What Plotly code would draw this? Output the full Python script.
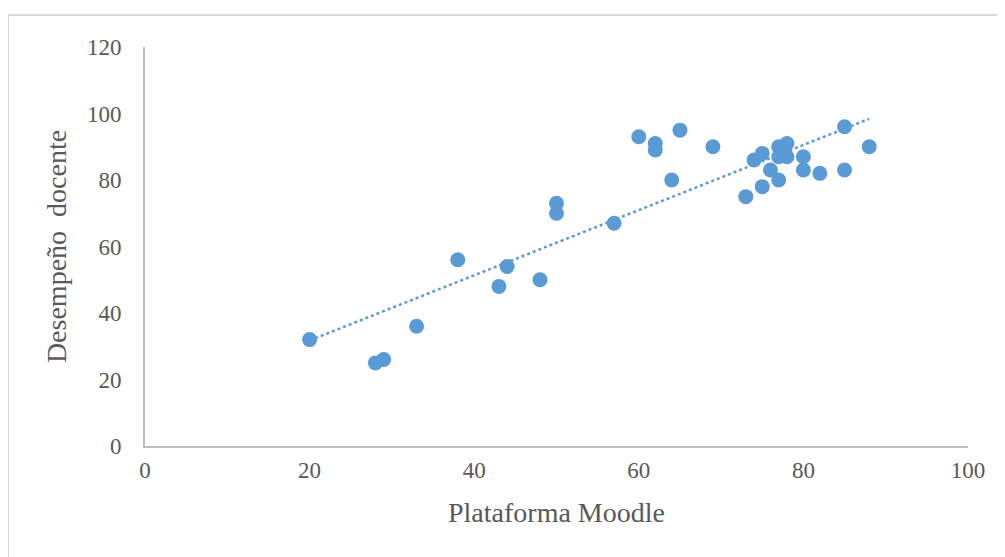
import numpy as np
import plotly.graph_objects as go

plataforma = [20, 28, 29, 33, 38, 43, 44, 48, 50, 50, 57, 60, 62, 62, 65, 64, 69,
              73, 74, 75, 75, 76, 77, 77, 77, 78, 78, 80, 80, 82, 85, 85, 88]
desempeno = [32, 25, 26, 36, 56, 48, 54, 50, 73, 70, 67, 93, 91, 89, 95, 80, 90,
             75, 86, 88, 78, 83, 90, 87, 80, 91, 87, 87, 83, 82, 96, 83, 90]

x_ticks = [0, 20, 40, 60, 80, 100]
y_ticks = [0, 20, 40, 60, 80, 100, 120]

blue = "#5B9BD5"
grey_text = "#595959"
font_family = "Liberation Serif"

xa = np.array(plataforma, dtype=float)
ya = np.array(desempeno, dtype=float)
slope, intercept = np.polyfit(xa, ya, 1)
tx = np.array([xa.min(), xa.max()])
ty = slope * tx + intercept

fig = go.Figure()
fig.add_trace(go.Scatter(x=tx, y=ty, mode="lines",
                         line=dict(color=blue, width=2.5, dash="dot"),
                         hoverinfo="skip", showlegend=False))
fig.add_trace(go.Scatter(x=plataforma, y=desempeno, mode="markers",
                         marker=dict(color=blue, size=15, line=dict(width=0)),
                         showlegend=False))

fig.update_layout(
    width=1005, height=557,
    margin=dict(l=137, r=45, t=39, b=119),
    paper_bgcolor="white", plot_bgcolor="white",
    font=dict(family=font_family, color=grey_text, size=23),
    xaxis=dict(range=[0, 100], tickvals=x_ticks, showgrid=False, zeroline=False,
               showline=True, linecolor="#BFBFBF", linewidth=2,
               ticks="", ticklabelstandoff=2, tickfont=dict(size=23),
               title=dict(text="Plataforma Moodle", font=dict(size=28, family=font_family, color=grey_text), standoff=21)),
    yaxis=dict(range=[0, 120], tickvals=y_ticks, showgrid=False, zeroline=False,
               showline=True, linecolor="#BFBFBF", linewidth=2,
               ticks="", ticklabelstandoff=17, tickfont=dict(size=23),
               title=dict(text="Desempeño  docente", font=dict(size=28, family=font_family, color=grey_text), standoff=12)),
    shapes=[dict(type="rect", xref="paper", yref="paper",
                 x0=(8 - 145) / 823, x1=1.2, y0=-0.4, y1=(446 - 15) / 399,
                 line=dict(color="#D9D9D9", width=2), fillcolor="rgba(0,0,0,0)", layer="below")],
)

fig.write_html("out.html")
